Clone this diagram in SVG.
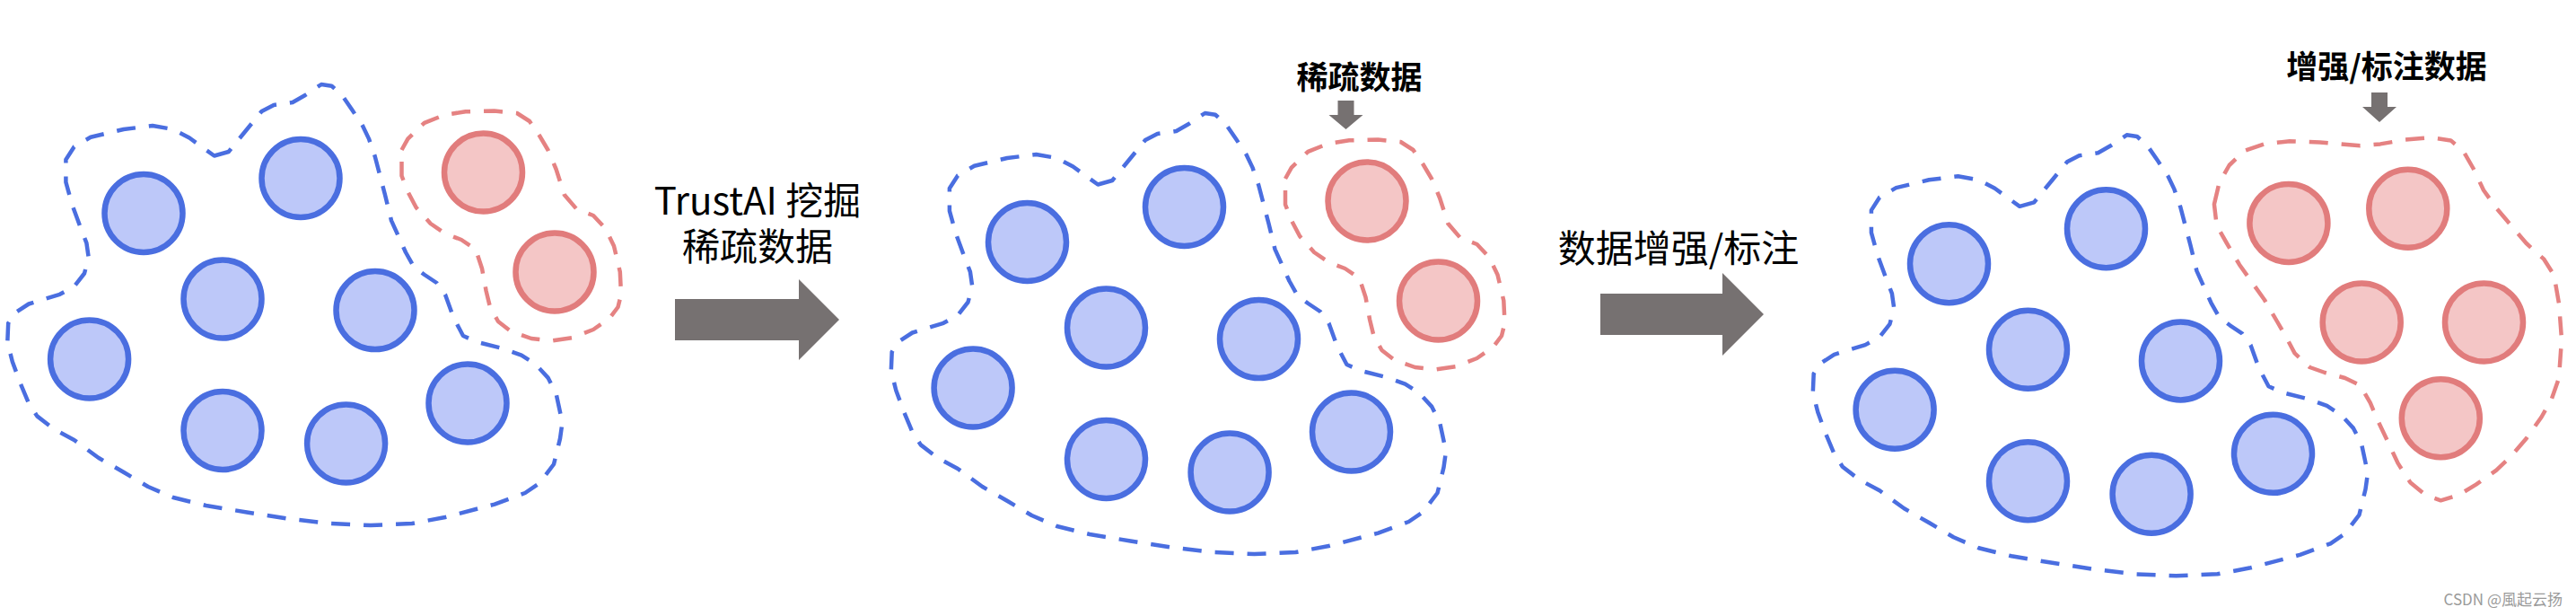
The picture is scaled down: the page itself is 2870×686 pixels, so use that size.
<svg xmlns="http://www.w3.org/2000/svg" xmlns:xlink="http://www.w3.org/1999/xlink" width="2870" height="686" viewBox="0 0 2870 686">
<style>
.b{fill:#bdc8f9;stroke:#4a6ee0;stroke-width:6.5}
.r{fill:#f4c6c6;stroke:#e17c7c;stroke-width:6.5}
.db{fill:none;stroke:#4a6ee0;stroke-width:4.5;stroke-dasharray:21 15;stroke-linejoin:round}
.dr{fill:none;stroke:#e58282;stroke-width:4.5;stroke-dasharray:21 15;stroke-linejoin:round}
.arr{fill:#767171}
.t{font-family:"Noto Sans CJK SC","Noto Sans",sans-serif;fill:#000;text-anchor:middle}
.lb{font-family:"Noto Sans CJK SC",sans-serif;font-weight:bold;font-size:35px;fill:#000;text-anchor:middle}
</style>
<defs>
<path id="blueBlob" d="M238.7,173.5 L254.7,169 L291.5,124 L305,117 L326,114 L340,106 L358,94 L369.5,95.7 L381,106 L392.4,122.5 L404,140 L411,154.6 L417.7,174 L429,217 L436,245.6 L452,281 L461,297 L473,306 L486.5,315 L496,328 L505,353 L516,374 L532,381 L560,388 L581,395.6 L597,406 L610.5,420.6 L619.6,438.4 L626.5,470.6 L624,488.4 L617,517 L601,538 L585,549 L551,561.6 L496,576 L459,583 L413,585 L367,583 L321,577.6 L275,570.5 L229.5,563 L193,554 L165,542 L138,526 L110,510 L82.6,490 L59.7,477.7 L41.3,463.4 L32,449 L23,427.7 L13.8,402.7 L8.3,381 L9.2,360 L16,349 L32,338.5 L66.6,327.8 L82.6,319 L94,304.5 L98.7,286.7 L96.4,270.6 L89.5,252.8 L80.3,227.8 L73.4,202.8 L73.4,177.8 L82.6,163.5 L101,152.8 L137.7,144 L170,140 L193,144 L211,153.5 L229.5,167 Z"/>
<path id="redBlob" d="M447.5,167 L454.4,154.6 L472.8,136.8 L495.7,127.8 L518.7,124.3 L550.8,123.5 L576,126 L590,135 L601,151 L610.5,167 L619.6,188.5 L628.8,217 L642.6,233 L661,240 L674.7,254.6 L684,274 L690.8,302.8 L692,327.8 L688.5,342 L679,354.5 L661,367 L638,376 L615,379.5 L592,377 L569,368.8 L555,358 L546,342 L541.6,324 L537,299 L530,277.8 L514,267 L495.7,260 L479.7,249 L463.6,231 L454.4,213.5 L447.5,195.7 Z"/>
<g id="blueSet">
<circle class="b" cx="160" cy="237.5" r="43.5"/>
<circle class="b" cx="335" cy="198.5" r="43.5"/>
<circle class="b" cx="248" cy="333" r="43.5"/>
<circle class="b" cx="418" cy="345.6" r="43.5"/>
<circle class="b" cx="99.6" cy="400" r="43.5"/>
<circle class="b" cx="248" cy="479.5" r="43.5"/>
<circle class="b" cx="385.6" cy="494" r="43.5"/>
<circle class="b" cx="521" cy="449" r="43.5"/>
</g>
</defs>
<rect width="2870" height="686" fill="#ffffff"/>

<g id="panel1">
<use xlink:href="#blueBlob" class="db"/>
<use xlink:href="#redBlob" class="dr"/>
<use xlink:href="#blueSet"/>
<circle class="r" cx="538.5" cy="192" r="43.5"/>
<circle class="r" cx="618" cy="303" r="43.5"/>
</g>

<g id="panel2" transform="translate(984.5,32)">
<use xlink:href="#blueBlob" class="db"/>
<use xlink:href="#redBlob" class="dr"/>
<use xlink:href="#blueSet"/>
<circle class="r" cx="538.5" cy="192" r="43.5"/>
<circle class="r" cx="618" cy="303" r="43.5"/>
</g>

<g id="panel3">
<use xlink:href="#blueBlob" class="db" transform="translate(2011.5,56.3)"/>
<path class="dr" d="M2466.9,227.5 L2472.5,203.8 L2483.7,184 L2500.5,168 L2523,160.4 L2551,157.2 L2584.7,158.4 L2607,160.4 L2629.5,162.3 L2652,160.4 L2680,155.6 L2708,153.2 L2730.5,156.4 L2744.5,168.3 L2755.8,188 L2767,211.7 L2781,231.5 L2797.8,251.2 L2814.7,271 L2834.3,288.7 L2845.5,306.5 L2851,338 L2854,377.6 L2851,421 L2842.7,444.8 L2831.5,464.5 L2814.7,488.2 L2797.8,508 L2781,523.8 L2758.6,539.6 L2739,551.4 L2719.3,557.3 L2702.5,551.4 L2685.6,537.6 L2671.6,515.9 L2660.4,492 L2649.2,468.5 L2640.8,448.7 L2629.5,429 L2612.7,421 L2590.3,415 L2573.4,409 L2556.6,393.4 L2548.2,377.6 L2537,358 L2523,334 L2509,314.4 L2495,294.7 L2481,271 L2469.7,251.2 Z"/>
<use xlink:href="#blueSet" transform="translate(2011.5,56.3)"/>
<circle class="r" cx="2549.9" cy="248.4" r="43.5"/>
<circle class="r" cx="2682.8" cy="232.2" r="43.5"/>
<circle class="r" cx="2631.2" cy="359" r="43.5"/>
<circle class="r" cx="2767.5" cy="359" r="43.5"/>
<circle class="r" cx="2719.3" cy="465.7" r="43.5"/>
</g>

<g id="connectors">
<polygon class="arr" points="752,333 890,333 890,311 935,356 890,401 890,379 752,379"/>
<polygon class="arr" points="1783,327 1919,327 1919,304 1965,350 1919,396 1919,373 1783,373"/>
<polygon class="arr" points="1490.5,112 1508.5,112 1508.5,128 1518.5,128 1499.5,144 1480.5,128 1490.5,128"/>
<polygon class="arr" points="2642,103 2660,103 2660,119 2670,119 2651,136 2632,119 2642,119"/>
</g>

<g id="labels">
<text class="t" font-size="42"><tspan x="844" y="239">TrustAI 挖掘</tspan><tspan x="844" y="290">稀疏数据</tspan></text>
<text class="t" x="1870" y="292" font-size="42">数据增强/标注</text>
<text class="lb" x="1514.6" y="99">稀疏数据</text>
<text class="lb" x="2659" y="87">增强/标注数据</text>
<text x="2855" y="674" font-family="Noto Sans CJK SC, sans-serif" font-size="17" fill="#9a9a9a" text-anchor="end">CSDN @風起云扬</text>
</g>
</svg>
